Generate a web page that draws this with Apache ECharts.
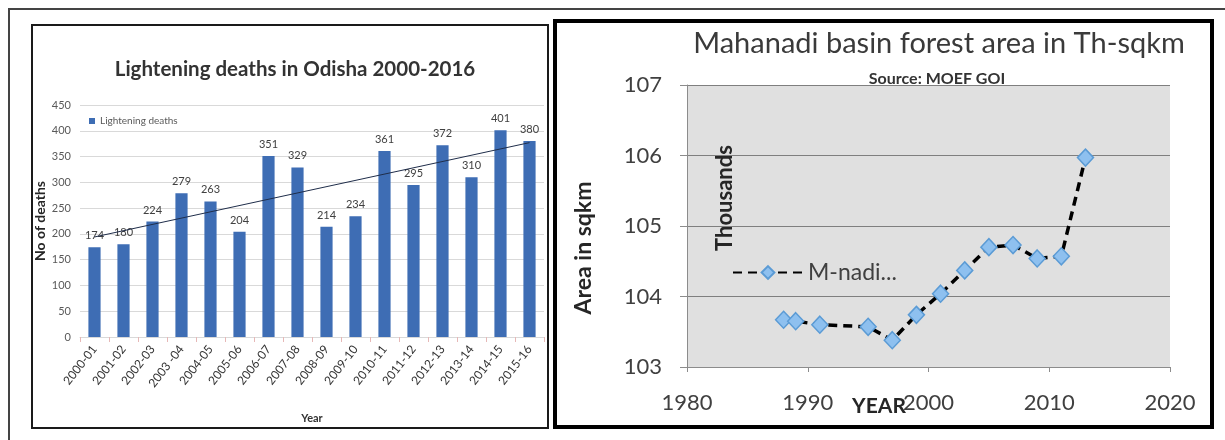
<!DOCTYPE html>
<html>
<head>
<meta charset="utf-8">
<title>Lightening deaths / Mahanadi forest area</title>
<script src="https://cdn.jsdelivr.net/npm/echarts@6/dist/echarts.min.js"></script>
<style>
  html, body { margin: 0; padding: 0; background: #fff; }
  #main { width: 1225px; height: 440px; }
</style>
</head>
<body>
<div id="main"></div>
<script>
// left chart: lightening deaths per year
const seasons = ["2000-01", "2001-02", "2002-03", "2003 -04", "2004-05", "2005-06", "2006-07", "2007-08",
  "2008-09", "2009-10", "2010-11", "2011-12", "2012-13", "2013-14", "2014-15", "2015-16"];
const deaths = [174, 180, 224, 279, 263, 204, 351, 329, 214, 234, 361, 295, 372, 310, 401, 380];
// linear trend end points as drawn in the picture
const trendEnds = [194, 377];

// right chart: Mahanadi basin forest area (thousand sq km)
const years = [1988, 1989, 1991, 1995, 1997, 1999, 2001, 2003, 2005, 2007, 2009, 2011, 2013];
const forestArea = [103.67, 103.65, 103.60, 103.57, 103.38, 103.74, 104.04, 104.37, 104.70, 104.73, 104.54, 104.57, 105.97];

const font = "Lato, 'Open Sans', sans-serif";

const myChart = echarts.init(document.getElementById("main"));

const option = {
  animation: false,
  backgroundColor: "#fff",
  textStyle: { fontFamily: font },
  title: [
    {
      text: "Lightening deaths in Odisha 2000-2016",
      left: 290,
      top: 54,
      textAlign: "center",
      textStyle: { fontFamily: font, fontSize: 20.5, fontWeight: "bold", color: "#333" },
    },
    {
      text: "Mahanadi basin forest area in Th-sqkm",
      left: 934,
      top: 24,
      textAlign: "center",
      textStyle: { fontFamily: font, fontSize: 29, fontWeight: "normal", color: "#3a3a3a" },
    },
    {
      text: "Source: MOEF GOI",
      left: 932,
      top: 66,
      textAlign: "center",
      textStyle: { fontFamily: font, fontSize: 16, fontWeight: "bold", color: "#333" },
    },
  ],
  legend: [
    {
      data: ["Lightening deaths"],
      left: 84,
      top: 111,
      itemWidth: 6,
      itemHeight: 6,
      itemGap: 4,
      icon: "rect",
      textStyle: { fontSize: 10, color: "#595959", fontFamily: font },
    },
    {
      data: ["M-nadi..."],
      left: 727,
      top: 256,
      itemWidth: 70,
      itemHeight: 16,
      itemGap: 8,
      textStyle: { fontSize: 23, color: "#404040", fontFamily: font },
    },
  ],
  grid: [
    { left: 80, right: 681, top: 105, bottom: 103 },
    { left: 687, right: 55, top: 85, bottom: 73, show: true, backgroundColor: "#e0e0e0", borderWidth: 0 },
  ],
  xAxis: [
    {
      type: "category",
      gridIndex: 0,
      data: seasons,
      boundaryGap: true,
      name: "Year",
      nameLocation: "middle",
      nameGap: 76,
      nameTextStyle: { fontSize: 11, fontWeight: "bold", color: "#333" },
      axisLine: { lineStyle: { color: "#d9d9d9" } },
      axisTick: { show: true, lineStyle: { color: "#e6b8b7" } },
      axisLabel: { interval: 0, rotate: 52, fontSize: 12, color: "#333", margin: 10 },
    },
    {
      type: "value",
      gridIndex: 1,
      min: 1980,
      max: 2020,
      interval: 10,
      axisLine: { show: true, lineStyle: { color: "#8c8c8c" } },
      axisTick: { show: true, length: 5, lineStyle: { color: "#8c8c8c" } },
      axisLabel: { fontSize: 22, color: "#404040", margin: 25, formatter: (v) => String(v) },
      splitLine: { show: false },
    },
  ],
  yAxis: [
    {
      type: "value",
      gridIndex: 0,
      min: 0,
      max: 450,
      interval: 50,
      name: "No of deaths",
      nameLocation: "middle",
      nameRotate: 90,
      nameGap: 33,
      nameTextStyle: { fontSize: 14, fontWeight: "bold", color: "#262626" },
      axisLine: { show: false },
      axisTick: { show: false },
      axisLabel: { fontSize: 11, color: "#595959", margin: 9 },
      splitLine: { lineStyle: { color: "#d9d9d9" } },
    },
    {
      type: "value",
      gridIndex: 1,
      min: 103,
      max: 107,
      interval: 1,
      axisLine: { show: true, lineStyle: { color: "#8c8c8c" } },
      axisTick: { show: true, length: 7, lineStyle: { color: "#8c8c8c" } },
      axisLabel: { fontSize: 22, color: "#404040", margin: 25 },
      splitLine: { lineStyle: { color: "#7f7f7f", width: 1 } },
    },
  ],
  series: [
    {
      name: "Lightening deaths",
      type: "bar",
      xAxisIndex: 0,
      yAxisIndex: 0,
      barWidth: "42%",
      itemStyle: { color: "#3e6db4" },
      label: { show: true, position: "top", fontSize: 11, color: "#404040", distance: 6 },
      data: deaths,
      z: 2,
    },
    {
      name: "trend",
      type: "line",
      xAxisIndex: 0,
      yAxisIndex: 0,
      symbol: "none",
      lineStyle: { color: "#1f2d4a", width: 1 },
      data: [[seasons[0], trendEnds[0]], [seasons[seasons.length - 1], trendEnds[1]]],
      z: 3,
    },
    {
      name: "M-nadi...",
      type: "line",
      xAxisIndex: 1,
      yAxisIndex: 1,
      symbol: "diamond",
      symbolSize: [16, 17],
      lineStyle: { color: "#000", width: 3.5, type: [9, 6] },
      itemStyle: { color: "#8ec0ef", borderColor: "#5b9bd5", borderWidth: 1.5 },
      data: years.map((y, i) => [y, forestArea[i]]),
    },
  ],
  graphic: [
    // outer frame (top + left edge)
    {
      type: "polyline",
      shape: { points: [[9, 440], [9, 9], [1225, 9]] },
      style: { stroke: "#444", lineWidth: 2, fill: null },
    },
    // left panel border
    {
      type: "rect",
      shape: { x: 32, y: 25, width: 516, height: 403 },
      style: { stroke: "#1a1a1a", lineWidth: 2, fill: "transparent" },
    },
    // right panel border
    {
      type: "rect",
      shape: { x: 555, y: 21, width: 657, height: 406 },
      style: { stroke: "#000", lineWidth: 4, fill: "transparent" },
    },
    {
      type: "text",
      x: 584,
      y: 248,
      rotation: Math.PI / 2,
      style: {
        text: "Area in sqkm",
        font: "bold 23px " + font,
        fill: "#262626",
        textAlign: "center",
        textVerticalAlign: "middle",
      },
    },
    {
      type: "text",
      x: 725,
      y: 198,
      rotation: Math.PI / 2,
      style: {
        text: "Thousands",
        font: "bold 22px " + font,
        fill: "#262626",
        textAlign: "center",
        textVerticalAlign: "middle",
      },
    },
    {
      type: "text",
      x: 879,
      y: 406,
      style: {
        text: "YEAR",
        font: "bold 21px " + font,
        fill: "#262626",
        textAlign: "center",
        textVerticalAlign: "middle",
      },
    },
  ],
};

myChart.setOption(option);
window.addEventListener("resize", () => {
  myChart.resize();
});
</script>
</body>
</html>
